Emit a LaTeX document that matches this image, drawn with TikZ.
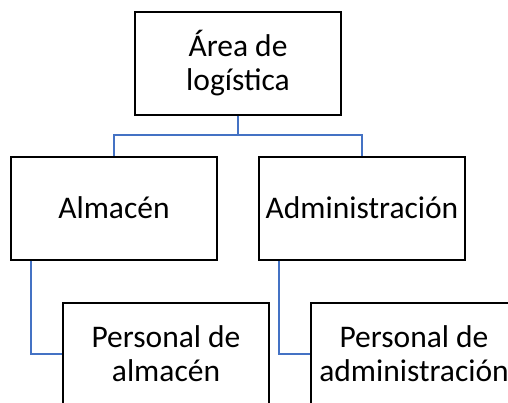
\documentclass[tikz,border=0pt]{standalone}
\usepackage{fontspec}
\setmainfont{Carlito}
\begin{document}
\begin{tikzpicture}[x=1pt,y=-1pt,
  box/.style={draw=black,line width=2pt,fill=white,minimum width=206pt,minimum height=103pt,inner sep=0pt,align=center,font=\fontsize{31.5}{34}\selectfont},
  conn/.style={draw={rgb,255:red,68;green,114;blue,196},line width=2pt}]
\useasboundingbox (0,0) rectangle (508,402);
\clip (0,0) rectangle (508,402);
\node[box] (top) at (238,63) {Área de\\logística};
\node[box] (alm) at (114,208) {Almacén};
\node[box] (adm) at (362,208) {Administración};
\node[box] (palm) at (166,354) {Personal de\\almacén};
\node[box] (padm) at (414,354) {Personal de\\administración};
\coordinate (mid) at (238,135);
\draw[conn] (top.south) -- (mid) -| (alm.north);
\draw[conn] (mid) -| (adm.north);
\draw[conn] (alm.south west) ++(21,0) coordinate (a1) |- (palm.west);
\draw[conn] (adm.south west) ++(21,0) coordinate (a2) |- (padm.west);
\end{tikzpicture}
\end{document}
